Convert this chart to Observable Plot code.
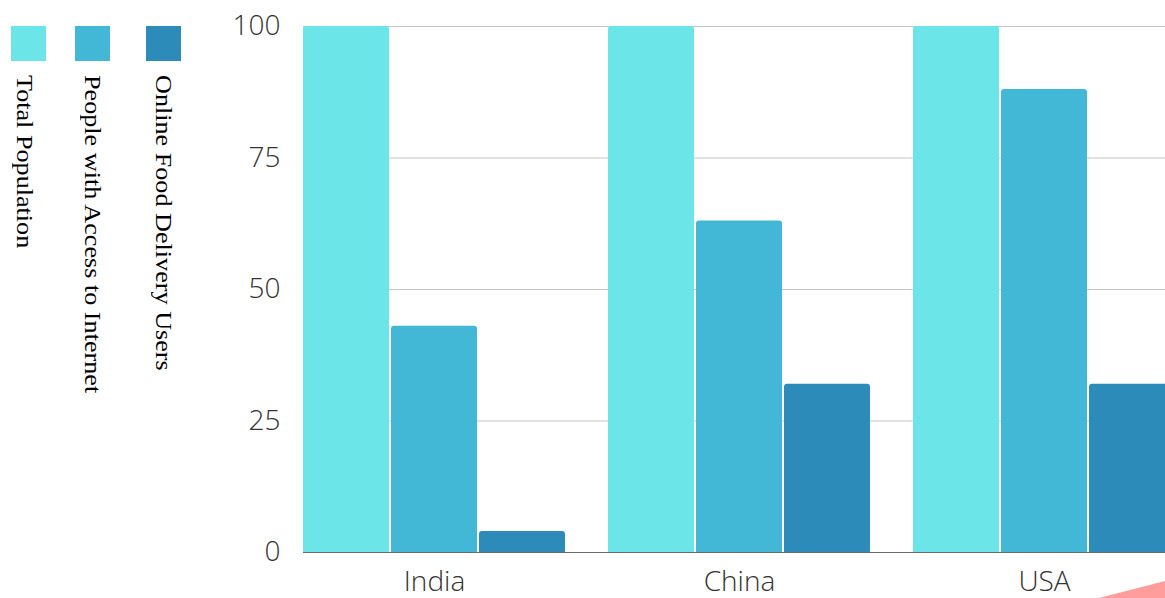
<!DOCTYPE html>
<html>
<head>
<meta charset="utf-8">
<script src="https://cdn.jsdelivr.net/npm/d3@7"></script>
<script src="https://cdn.jsdelivr.net/npm/@observablehq/plot@0.6"></script>
<style>
  html, body { margin: 0; padding: 0; background: #fff; overflow: hidden; }
  #wrap { position: relative; width: 1165px; height: 598px; overflow: hidden; }
  #chart { position: absolute; left: 0; top: 0; }
  .swatch { position: absolute; top: 26px; width: 35px; height: 35px; }
  .key {
    position: absolute; top: 75px;
    writing-mode: vertical-rl;
    font-family: "Liberation Serif", "Times New Roman", serif;
    font-size: 24px; line-height: 24px; color: #000; white-space: nowrap;
    transform: scaleY(1.09); transform-origin: top;
  }
  .corner {
    position: absolute; right: 0; bottom: 0; width: 66px; height: 17px;
    background: #ff9c9c; clip-path: polygon(0 100%, 100% 0, 100% 100%);
  }
</style>
</head>
<body>
<div id="wrap">
  <div id="chart"></div>
  <div id="legend"></div>
  <div class="corner"></div>
</div>
<script>
// Population shares (% of each country's population)
const countries = ["India", "China", "USA"];
const seriesNames = ["Total Population", "People with Access to Internet", "Online Food Delivery Users"];
const totalPopulation = [100, 100, 100];
const internetAccess = [43, 63, 88];
const deliveryUsers = [4, 32, 32];
const yTicks = [0, 25, 50, 75, 100];
const colors = ["#6ce5e8", "#42b8d6", "#2d8bba"];

const seriesValues = [totalPopulation, internetAccess, deliveryUsers];
const rows = [];
seriesNames.forEach((s, i) => countries.forEach((c, j) => rows.push({country: c, series: s, value: seriesValues[i][j]})));

// each country band holds three side-by-side bars
const bandwidth = 262, gap = 2;
const barW = (bandwidth - 2 * gap) / 3;

const barMarks = seriesNames.map((s, i) => Plot.barY(rows.filter(d => d.series === s), {
  x: "country",
  y: "value",
  fill: colors[i],
  insetLeft: i * (barW + gap),
  insetRight: (2 - i) * (barW + gap),
  insetBottom: -4,
  rx: 3,
  clip: true
}));

const chart = Plot.plot({
  width: 1165,
  height: 598,
  marginTop: 26,
  marginBottom: 46,
  marginLeft: 303,
  marginRight: 0,
  style: {fontFamily: "'Open Sans', sans-serif", background: "transparent", color: "#333"},
  x: {domain: countries, range: [303, 1175], paddingInner: 43 / 305, paddingOuter: 0, label: null},
  y: {domain: [0, 100], label: null},
  marks: [
    Plot.gridY(yTicks, {stroke: "#c4c4c4", strokeOpacity: 1}),
    Plot.ruleY([0], {stroke: "#6b6b6b"}),
    ...barMarks,
    Plot.axisY(yTicks, {tickSize: 0, tickPadding: 23, fontSize: 28, fontWeight: 300, fill: "#333", label: null}),
    Plot.axisX({tickSize: 0, tickPadding: 19, fontSize: 28, fontWeight: 300, fill: "#333", label: null})
  ]
});
document.getElementById("chart").appendChild(chart);

// legend: colour swatches with vertical captions
const legend = document.getElementById("legend");
const swatchLeft = [11, 75, 146];
const keyLeft = [13, 81, 152];
seriesNames.forEach((s, i) => {
  const sw = document.createElement("div");
  sw.className = "swatch";
  sw.style.left = swatchLeft[i] + "px";
  sw.style.background = colors[i];
  legend.appendChild(sw);
  const t = document.createElement("div");
  t.className = "key";
  t.style.left = keyLeft[i] + "px";
  t.textContent = s;
  legend.appendChild(t);
});
</script>
</body>
</html>
